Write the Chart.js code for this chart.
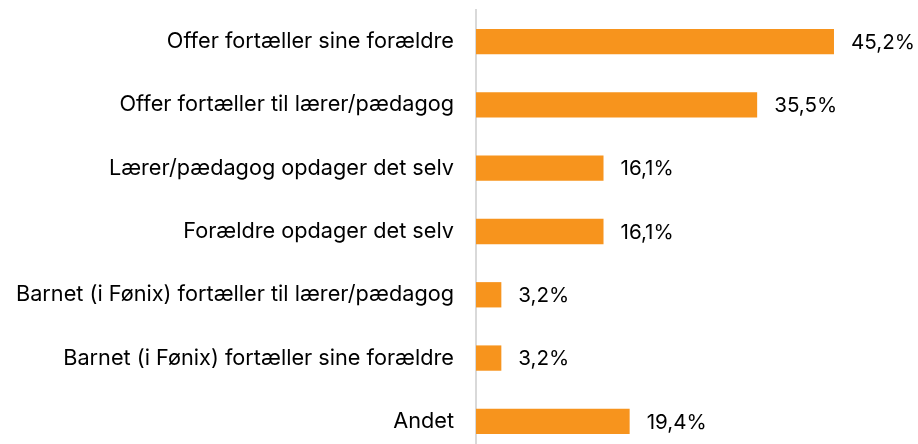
<!DOCTYPE html>
<html>
<head>
<meta charset="utf-8">
<script src="https://cdn.jsdelivr.net/npm/chart.js@4"></script>
<style>
  html, body { margin: 0; padding: 0; background: #fff; overflow: hidden; }
  #wrap { width: 918px; height: 453px; }
</style>
</head>
<body>
<div id="wrap"><canvas id="chart"></canvas></div>
<script>
const categories = [
  "Offer fortæller sine forældre",
  "Offer fortæller til lærer/pædagog",
  "Lærer/pædagog opdager det selv",
  "Forældre opdager det selv",
  "Barnet (i Fønix) fortæller til lærer/pædagog",
  "Barnet (i Fønix) fortæller sine forældre",
  "Andet"
];
const shares = [45.2, 35.5, 16.1, 16.1, 3.2, 3.2, 19.4];

const FONT = "Inter, 'Open Sans', sans-serif";

const valueLabels = {
  id: "valueLabels",
  afterDatasetsDraw(chart) {
    const ctx = chart.ctx;
    const meta = chart.getDatasetMeta(0);
    ctx.save();
    ctx.font = "20.6px " + FONT;
    ctx.fillStyle = "#000";
    ctx.textAlign = "left";
    ctx.textBaseline = "middle";
    meta.data.forEach((bar, i) => {
      const text = shares[i].toFixed(1).replace(".", ",") + "%";
      ctx.fillText(text, bar.x + 17, bar.y + 1);
    });
    ctx.restore();
  }
};

const context = document.getElementById("chart").getContext("2d");
new Chart(context, {
  type: "bar",
  data: {
    labels: categories,
    datasets: [{
      data: shares,
      backgroundColor: "#F7941D",
      barPercentage: 0.8,
      categoryPercentage: 0.5
    }]
  },
  options: {
    indexAxis: "y",
    responsive: true,
    maintainAspectRatio: false,
    animation: false,
    layout: { padding: { left: 0, right: 46, top: 10, bottom: 0 } },
    plugins: { legend: { display: false }, tooltip: { enabled: false } },
    scales: {
      x: {
        display: false,
        min: 0,
        max: 50
      },
      y: {
        afterFit: (scale) => {
          scale.width = 476;
          scale.paddingTop = 0;
          scale.paddingBottom = 0;
        },
        grid: { drawOnChartArea: false, drawTicks: false },
        border: { display: true, color: "#d9d9d9", width: 2 },
        ticks: {
          color: "#000",
          padding: 22,
          font: { family: FONT, size: 21.7 }
        }
      }
    }
  },
  plugins: [valueLabels]
});
</script>
</body>
</html>
